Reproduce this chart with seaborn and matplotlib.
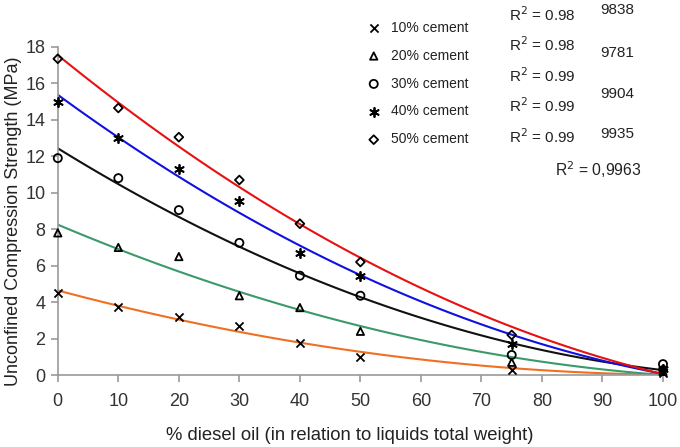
import numpy as np
import pandas as pd
import matplotlib
matplotlib.use("Agg")
import matplotlib.pyplot as plt
import seaborn as sns

diesel = [0, 10, 20, 30, 40, 50, 75, 100]
cement_labels = ["10% cement", "20% cement", "30% cement", "40% cement", "50% cement"]
s10 = [4.5, 3.75, 3.2, 2.7, 1.75, 1.0, 0.3, 0.1]
s20 = [7.8, 7.0, 6.5, 4.35, 3.7, 2.4, 0.7, 0.2]
s30 = [11.9, 10.8, 9.05, 7.25, 5.45, 4.35, 1.1, 0.6]
s40 = [15.0, 13.0, 11.3, 9.55, 6.7, 5.45, 1.7, 0.35]
s50 = [17.35, 14.65, 13.05, 10.7, 8.3, 6.2, 2.2, 0.3]
series = [s10, s20, s30, s40, s50]
r2_short = ["R$^2$ = 0.98", "R$^2$ = 0.98", "R$^2$ = 0.99", "R$^2$ = 0.99", "R$^2$ = 0.99"]
r2_tail = ["9838", "9781", "9904", "9935"]
r2_last = "R$^2$ = 0,9963"

line_colors = ["#f07020", "#3a9a6a", "#111111", "#1010e0", "#e81010"]
markers = ["x", "^", "o", (6, 2, 0), "D"]
msizes = [34, 28, 34, 44, 20]

sns.set_theme(style="white")
plt.rcParams['font.family'] = ['Liberation Sans', 'DejaVu Sans']

fig = plt.figure(figsize=(6.8, 4.47), dpi=100)
ax = fig.add_axes([0.085, 0.161, 0.89, 0.734])

for lab, vals, col, mk, ms in zip(cement_labels, series, line_colors, markers, msizes):
    df = pd.DataFrame({"x": diesel, "y": vals})
    sns.regplot(data=df, x="x", y="y", order=2, ci=None, scatter=False, ax=ax,
                line_kws=dict(color=col, lw=1.5))
    if mk == "x":
        ax.scatter(diesel, vals, marker=mk, s=ms, color="black", linewidths=1.3,
                   clip_on=False, zorder=5, label=lab)
    else:
        ax.scatter(diesel, vals, marker=mk, s=ms, facecolors="none" if mk != (6, 2, 0) else "black",
                   edgecolors="black", linewidths=1.3, clip_on=False, zorder=5, label=lab)

ax.set_xlim(0, 100)
ax.set_ylim(0, 18)
ax.set_xticks(range(0, 101, 10))
ax.set_yticks(range(0, 19, 2))
ax.tick_params(axis="both", labelsize=13, labelcolor="#333333", color="#999999",
               length=5, width=1.2, direction="out", bottom=True, left=True)
ax.tick_params(axis="x", pad=8)
ax.tick_params(axis="y", pad=4)
for sp in ["top", "right"]:
    ax.spines[sp].set_visible(False)
for sp in ["left", "bottom"]:
    ax.spines[sp].set_color("#999999")
    ax.spines[sp].set_linewidth(1.2)

ax.set_xlabel("% diesel oil (in relation to liquids total weight)", fontsize=13.3,
              color="#222222")
ax.set_ylabel("Unconfined Compression Strength (MPa)", fontsize=13, color="#222222")
ax.xaxis.set_label_coords((350 - 58) / 605, -(435 - 375) / 328)
ax.yaxis.set_label_coords(-(58 - 14) / 605, (375 - 221) / 328)
ax.xaxis.label.set_va("center")
ax.yaxis.label.set_va("center")

leg = ax.legend(loc="upper left", bbox_to_anchor=(364 / 680, 1 - 18 / 447),
                bbox_transform=fig.transFigure, frameon=False, fontsize=10,
                handletextpad=0.75, labelspacing=1.0, handlelength=1.0, borderpad=0.2,
                borderaxespad=0)
for t in leg.get_texts():
    t.set_color("#222222")

short_y = [15, 45, 76, 106, 137]
tail_y = [10, 53, 94, 134]
for t, py in zip(r2_short, short_y):
    fig.text(509 / 680, 1 - py / 447, t, fontsize=11, color="#222222", va="center", ha="left")
for t, py in zip(r2_tail, tail_y):
    fig.text(600 / 680, 1 - py / 447, t, fontsize=11, color="#222222", va="center", ha="left")
fig.text(555 / 680, 1 - 170 / 447, r2_last, fontsize=11.3, color="#222222", va="center", ha="left")

fig.savefig("out.png", dpi=100, facecolor="white")
